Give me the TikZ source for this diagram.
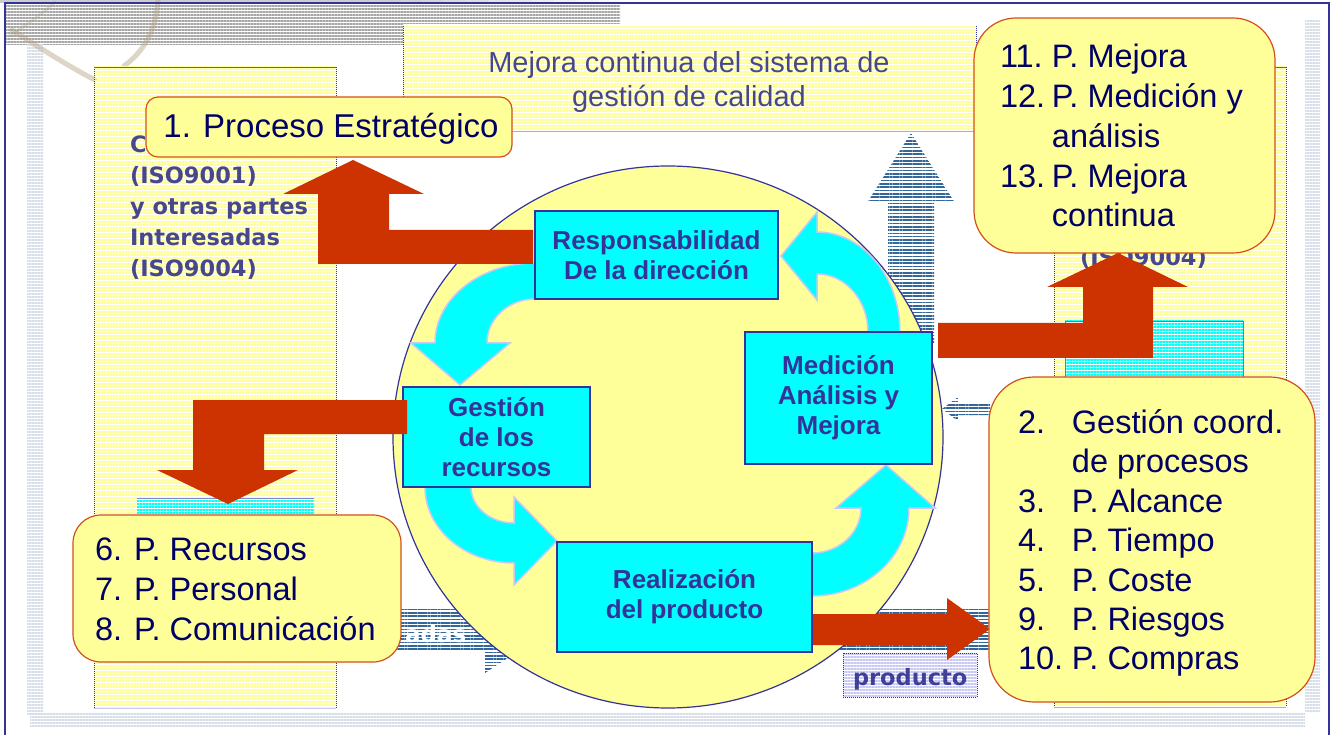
\documentclass[tikz,border=0pt]{standalone}
\usepackage{fontspec}
\setmainfont{Liberation Sans}
\newfontfamily\dejavu{DejaVu Sans}
\usetikzlibrary{patterns.meta,calc}
\definecolor{navyT}{HTML}{000066}
\definecolor{boxB}{HTML}{333399}
\definecolor{cyanF}{HTML}{00FFFF}
\definecolor{yelF}{HTML}{FFFF99}
\definecolor{redA}{HTML}{CC3300}
\definecolor{yelB}{HTML}{D2501E}
\definecolor{lavO}{HTML}{C8C8F5}
\definecolor{stripeB}{HTML}{336699}
\definecolor{colY}{HTML}{FFFF99}
\definecolor{bgT}{HTML}{1A1A80}
\definecolor{shadowC}{HTML}{D8DEE8}
\definecolor{logoC}{HTML}{B5A585}
\definecolor{oliveL}{HTML}{B4B48C}
\begin{document}
\begin{tikzpicture}[x=1pt,y=-1pt,
  ybox/.style={draw=yelB, line width=1.2pt, fill=yelF, inner sep=0pt, outer sep=0pt},
  cbox/.style={draw=boxB, line width=1.3pt, fill=cyanF, text=boxB, inner sep=0pt, outer sep=0pt, align=center, font=\fontsize{26}{30}\selectfont\bfseries},
  ytext/.style={text=navyT, inner sep=0pt, outer sep=0pt, anchor=base west},
  bgtext/.style={text=bgT, text opacity=0.8, inner sep=0pt, outer sep=0pt, font=\dejavu\bfseries\fontsize{22.5}{31}\selectfont},
  bgtitle/.style={text=bgT, text opacity=0.8, inner sep=0pt, outer sep=0pt, font=\fontsize{29}{34}\selectfont},
  cyarrow/.style={fill=cyanF, draw=lavO, line width=1.5pt},
  redarrow/.style={fill=redA},
  colfill/.style={pattern={Lines[angle=0,distance=3pt,line width=1.6pt]}, pattern color=colY},
  cyanstripe/.style={pattern={Lines[angle=0,distance=3pt,line width=1.6pt]}, pattern color=cyanF},
  lavstripe/.style={pattern={Lines[angle=0,distance=3pt,line width=1.4pt]}, pattern color=lavO},
  bluestripe/.style={pattern={Lines[angle=0,distance=3.3pt,line width=1.6pt]}, pattern color=stripeB},
  hstripe/.style={pattern={Lines[angle=0,distance=3pt,line width=1.3pt]}, pattern color=gray!70},
  vshadow/.style={pattern={Lines[angle=0,distance=3pt,line width=1.2pt]}, pattern color=shadowC},
  dotB/.style={draw=boxB, line width=0.9pt, dash pattern=on 1pt off 1pt},
  logo/.style={draw=logoC, line width=5pt, opacity=0.45, line cap=round},
  circ/.style={draw=boxB, line width=1.2pt, fill=yelF}
]
\useasboundingbox (0,0) rectangle (1331,735);
\fill[white] (0,0) rectangle (1331,735);

% top grey strip and header stripes
\fill[gray!40] (0,0) rectangle (400,3);
\foreach \i in {0,...,9}{\pgfmathsetmacro\op{1-(\i+1)/11}
  \fill[gray!40, fill opacity=\op] ({400+\i*22},0) rectangle ({422+\i*22},3);}
\fill[hstripe] (5,6) rectangle (403,37);
\fill[hstripe, fill opacity=0.45] (5,37) rectangle (403,45);
\fill[hstripe] (403,6) rectangle (460,24);
\foreach \i in {0,...,7}{\pgfmathsetmacro\op{1-(\i+1)/9}
  \fill[hstripe, fill opacity=\op] ({460+\i*20},6) rectangle ({480+\i*20},24);}

% side shadows
\fill[vshadow] (27,45) rectangle (43,715);
\fill[vshadow] (1305,20) rectangle (1320,712);
\fill[vshadow] (30,712) rectangle (1305,727);

% faint logo
\draw[logo] (12,30) .. controls (40,48) and (68,66) .. (95,80);
\draw[logo] (158,0) .. controls (156,28) and (146,50) .. (124,66);
\draw[logo, line width=3pt, opacity=0.3] (55,2) .. controls (42,14) and (28,24) .. (10,36);

% frame
\draw[boxB, line width=1.2pt] (5,735) -- (5,3) -- (1329,3) -- (1329,735);

% background columns
\fill[colfill] (94,67) rectangle (336,708);
\draw[dotB] (94,67) -- (94,708);
\draw[dotB] (336,67) -- (336,708);
\draw[boxB!80, line width=0.8pt] (94,67) -- (336,67);
\draw[lavO, line width=0.8pt] (94,708) -- (336,708);

\fill[colfill] (1054,67) rectangle (1286,707);
\draw[dotB] (1054,67) -- (1054,707);
\draw[dotB] (1286,67) -- (1286,707);
\draw[boxB!80, line width=0.8pt] (1054,67) -- (1286,67);
\draw[oliveL, line width=0.8pt] (1054,707) -- (1286,707);

\fill[colfill] (403,26) rectangle (976,132);
\draw[dotB] (403,26) -- (403,132);
\draw[dotB] (976,26) -- (976,132);
\draw[oliveL, line width=1pt] (403,132) -- (976,132);

% cyan striped rectangles
\fill[cyanstripe] (137,498) rectangle (314,516);
\draw[boxB!60, line width=0.6pt] (137,498) -- (314,498);
\fill[cyanstripe] (1065,321) rectangle (1243,378);
\draw[boxB!70, line width=0.7pt] (1065,378) -- (1065,321) -- (1243,321) -- (1243,378);

% background texts
\node[bgtext, anchor=base west] (bgl) at (130,153) {\begin{tabular}[t]{@{}l@{}}C\\(ISO9001)\\y otras partes\\Interesadas\\(ISO9004)\end{tabular}};
\node[bgtext, anchor=base west] (bgr) at (1080,266) {(ISO9004)};
\node[bgtitle, anchor=base] (title) at (689,73) {\begin{tabular}[t]{@{}c@{}}Mejora continua del sistema de\\gesti\'on de calidad\end{tabular}};

% blue striped arrows
\fill[bluestripe] (911,133) -- (955,203) -- (934,203) -- (934,345) -- (888,345) -- (888,203) -- (867,203) -- cycle;
\fill[bluestripe] (380,608) -- (485,608) -- (485,585) -- (552,629) -- (485,673) -- (485,651) -- (380,651) -- cycle;
\fill[bluestripe] (800,607) rectangle (1000,650);
\fill[bluestripe] (990,404) -- (958,404) -- (958,397) -- (942,409) -- (958,421) -- (958,415) -- (990,415) -- cycle;
\node[font=\dejavu\bfseries\fontsize{23}{28}\selectfont, text=white, inner sep=0pt, anchor=base west] (adas) at (405,642) {adas};

% producto box
\fill[lavstripe] (843,653) rectangle (977,697);
\draw[dotB] (843,653) rectangle (977,697);
\node[bgtext, anchor=base west] (prod) at (853,685) {producto};

% circle
\draw[circ] (668,437) ellipse [x radius=275, y radius=271];

% cyan curved arrows
\filldraw[cyarrow] (540,263) -- (535,263) .. controls (479.8,263) and (435,298.8) .. (435,343)
  -- (411,343) -- (460,385) -- (510,343) -- (487,343)
  .. controls (487,318.7) and (508.5,299) .. (535,299) -- (540,299) -- cycle;
\filldraw[cyarrow] (425,480) -- (425,487) .. controls (425,529) and (464.8,563) .. (514,563)
  -- (514,585) -- (557,541) -- (514,497) -- (514,523)
  .. controls (490.3,523) and (471,506.9) .. (471,487) -- (471,480) -- cycle;
\filldraw[cyarrow] (805,596) -- (812,596) .. controls (865.6,596) and (909,556.6) .. (909,508)
  -- (935,508) -- (886,465) -- (836,508) -- (861,508)
  .. controls (861,532.9) and (839.1,553) .. (812,553) -- (805,553) -- cycle;
\filldraw[cyarrow] (900,338) -- (900,332) .. controls (900,276.8) and (862.8,232) .. (817,232)
  -- (817,212) -- (781,256) -- (817,300) -- (817,274)
  .. controls (845.2,274) and (868,300) .. (868,332) -- (868,338) -- cycle;

% cyan boxes
\node[cbox, minimum width=243pt, minimum height=88pt] (resp) at (656.5,255) {Responsabilidad\\De la direcci\'on};
\node[cbox, minimum width=187pt, minimum height=100pt] (gest) at (496.5,437) {Gesti\'on\\de los\\recursos};
\node[cbox, minimum width=187pt, minimum height=132pt] (med) at (838.5,398) {Medici\'on\\An\'alisis y\\Mejora};
\node[cbox, minimum width=255pt, minimum height=110pt] (real) at (684.5,597) {Realizaci\'on\\del producto};

% red block arrows
\fill[redarrow] ($(resp.west)+(-2,-25)$) -- ++(-144,0) -- ++(0,-36) -- ++(35,0) -- ++(-71,-34) -- ++(-70,34) -- ++(35,0) -- ++(0,70) -- ++(215,0) -- cycle;
\fill[redarrow] ($(gest.west)+(4,-37)$) -- ++(-214,0) -- ++(0,70) -- ++(-36,0) -- ++(71,34) -- ++(70,-34) -- ++(-34,0) -- ++(0,-36) -- ++(143,0) -- cycle;
\fill[redarrow] ($(med.east)+(6,-75)$) -- ++(145,0) -- ++(0,-36) -- ++(-36,0) -- ++(71,-34) -- ++(70,34) -- ++(-35,0) -- ++(0,71) -- ++(-215,0) -- cycle;
\fill[redarrow] ($(real.east)+(1,17)$) -- ++(134,0) -- ++(0,-16) -- ++(43,31) -- ++(-43,31) -- ++(0,-15) -- ++(-134,0) -- cycle;

% yellow boxes
\node[ybox, rounded corners=12pt, minimum width=366pt, minimum height=60pt] (p1) at (329,127) {};
\node[ytext, font=\fontsize{33}{40}\selectfont, anchor=base] (t1) at (331,138) {1. Proceso Estrat\'egico};

\node[ybox, rounded corners=42pt, minimum width=301pt, minimum height=235pt] (p11) at (1124.5,135.5) {};
\node[ytext, font=\fontsize{32.5}{39.75}\selectfont] (t11) at (1000,68) {\begin{tabular}[t]{@{}l@{\hspace{6.8pt}}l@{}}11.&P. Mejora\\12.&P. Medici\'on y\\&an\'alisis\\13.&P. Mejora\\&continua\end{tabular}};

\node[ybox, rounded corners=45pt, minimum width=326pt, minimum height=325pt] (p2) at (1152,539.5) {};
\node[ytext, font=\fontsize{32.5}{39.5}\selectfont] (t2) at (1018,433) {\begin{tabular}[t]{@{}l@{\hspace{8.8pt}}l@{}}2.&Gesti\'on coord.\\&de procesos\\3.&P. Alcance\\4.&P. Tiempo\\5.&P. Coste\\9.&P. Riesgos\\10.&P. Compras\end{tabular}};

\node[ybox, rounded corners=28pt, minimum width=328pt, minimum height=147pt] (p6) at (237,588.5) {};
\node[ytext, font=\fontsize{32.5}{40}\selectfont] (t6) at (95,560) {\begin{tabular}[t]{@{}l@{}}6. P. Recursos\\7. P. Personal\\8. P. Comunicaci\'on\end{tabular}};
\end{tikzpicture}
\end{document}
